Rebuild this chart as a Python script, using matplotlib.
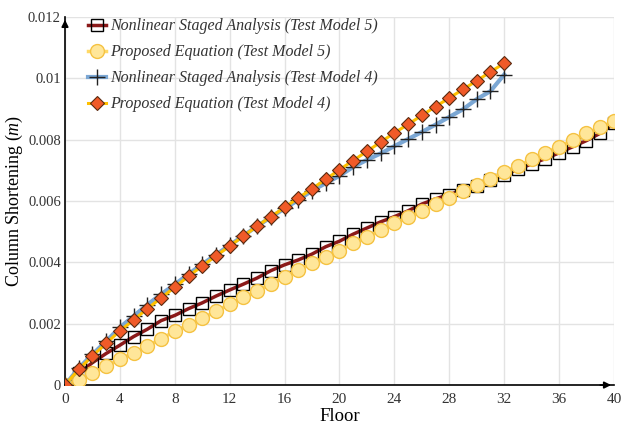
import numpy as np
import matplotlib
matplotlib.use('Agg')
import matplotlib.pyplot as plt
import matplotlib.ticker as tick

plt.rcParams['font.family'] = ['Liberation Serif', 'DejaVu Serif']
plt.rcParams['mathtext.fontset'] = 'custom'
plt.rcParams['mathtext.rm'] = 'Liberation Serif'
plt.rcParams['mathtext.it'] = 'Liberation Serif:italic'

floors5 = list(range(41))
floors4 = list(range(33))

# Nonlinear staged analysis, test model 5
nsa5 = [0, 0.00038, 0.00073, 0.00103, 0.00130, 0.00158, 0.00182, 0.00210, 0.00227, 0.00249,
        0.00268, 0.00290, 0.00310, 0.00329, 0.00349, 0.00373, 0.00392, 0.00408, 0.00427, 0.00451,
        0.00469, 0.00492, 0.00512, 0.00532, 0.00549, 0.00568, 0.00590, 0.00607, 0.00621, 0.00636,
        0.00649, 0.00668, 0.00686, 0.00703, 0.00721, 0.00738, 0.00757, 0.00777, 0.00797, 0.00821,
        0.00853]
# proposed equation, test model 5
peq5 = [0, 0.00018, 0.00038, 0.00062, 0.00084, 0.00105, 0.00127, 0.00151, 0.00175, 0.00197,
        0.00218, 0.00240, 0.00264, 0.00286, 0.00307, 0.00329, 0.00353, 0.00375, 0.00397, 0.00418,
        0.00438, 0.00462, 0.00484, 0.00505, 0.00527, 0.00547, 0.00567, 0.00589, 0.00610, 0.00634,
        0.00651, 0.00673, 0.00695, 0.00714, 0.00736, 0.00757, 0.00777, 0.00799, 0.00821, 0.00840,
        0.00860]
# Nonlinear staged analysis, test model 4
nsa4 = [0, 0.00055, 0.00100, 0.00143, 0.00188, 0.00225, 0.00262, 0.00296, 0.00328, 0.00362,
        0.00394, 0.00425, 0.00456, 0.00487, 0.00518, 0.00547, 0.00576, 0.00603, 0.00634, 0.00658,
        0.00682, 0.00711, 0.00734, 0.00755, 0.00779, 0.00802, 0.00825, 0.00849, 0.00874, 0.00899,
        0.00932, 0.00958, 0.01012]
# proposed equation, test model 4
peq4 = [0, 0.00051, 0.00095, 0.00136, 0.00177, 0.00212, 0.00249, 0.00284, 0.00319, 0.00355,
        0.00388, 0.00421, 0.00453, 0.00486, 0.00518, 0.00549, 0.00579, 0.00610, 0.00640, 0.00671,
        0.00702, 0.00732, 0.00762, 0.00792, 0.00822, 0.00850, 0.00879, 0.00908, 0.00936, 0.00964,
        0.00992, 0.01021, 0.01049]

fig = plt.figure(figsize=(6.22, 4.25), dpi=100)
ax = fig.add_axes([0.1045, 0.094, 0.8825, 0.866])

ax.plot(floors5, nsa5, color='#8B1A1A', lw=2.5, marker='s', ms=8, mfc='none', mec='black',
        mew=1.0, zorder=3, label='Nonlinear Staged Analysis (Test Model 5)')
ax.plot(floors5, peq5, color='#FFD966', lw=2.5, marker='o', ms=10, mfc='#FFE699', mec='#F5C242',
        mew=1.0, zorder=4, label='Proposed Equation (Test Model 5)')
ax.plot(floors4, nsa4, color='#7BA7D4', lw=3, marker='+', ms=11, mec='#222222', mew=1.0,
        zorder=5, label='Nonlinear Staged Analysis (Test Model 4)')
ax.plot(floors4, peq4, color='#FFC000', lw=2.2, marker='D', ms=7, mfc='#F05A28', mec='#5A2A10',
        mew=0.8, zorder=6, label='Proposed Equation (Test Model 4)')

ax.set_xlim(0, 40)
ax.set_ylim(0, 0.012)
ax.xaxis.set_major_locator(tick.MultipleLocator(4))
ax.yaxis.set_major_locator(tick.MultipleLocator(0.002))
ax.yaxis.set_major_formatter(tick.FuncFormatter(lambda v, p: '0' if abs(v) < 1e-9 else ('%g' % round(v, 4))))
ax.tick_params(length=0, labelsize=11, colors='#333333')
ax.tick_params(axis='x', pad=6)
ax.tick_params(axis='y', pad=3, labelsize=10.5)
ax.grid(color='#E3E3E3', lw=1.0)
ax.set_axisbelow(True)

for s in ['top', 'right']:
    ax.spines[s].set_visible(False)
for s in ['left', 'bottom']:
    ax.spines[s].set_color('black')
    ax.spines[s].set_linewidth(1.2)

ax.annotate('', xy=(1.0, 0), xytext=(0.97, 0), xycoords='axes fraction',
            arrowprops=dict(arrowstyle='-|>', color='black', lw=1.2, mutation_scale=10), annotation_clip=False)
ax.annotate('', xy=(0, 1.0), xytext=(0, 0.97), xycoords='axes fraction',
            arrowprops=dict(arrowstyle='-|>', color='black', lw=1.2, mutation_scale=10), annotation_clip=False)

ax.set_xlabel('Floor', fontsize=13.5, labelpad=0)
ax.xaxis.set_label_coords(0.5, -0.061)
ax.set_ylabel(r'Column Shortening $\mathit{(m)}$', fontsize=13)
ax.yaxis.set_label_coords(-0.072, 0.5)

leg = ax.legend(loc='upper left', bbox_to_anchor=(0.016, 1.035), frameon=False, handlelength=1.1,
                handletextpad=0.3, labelspacing=0.62, prop={'style': 'italic', 'size': 11.5})
for t in leg.get_texts():
    t.set_color('#333333')

fig.savefig('out.png', dpi=100)
